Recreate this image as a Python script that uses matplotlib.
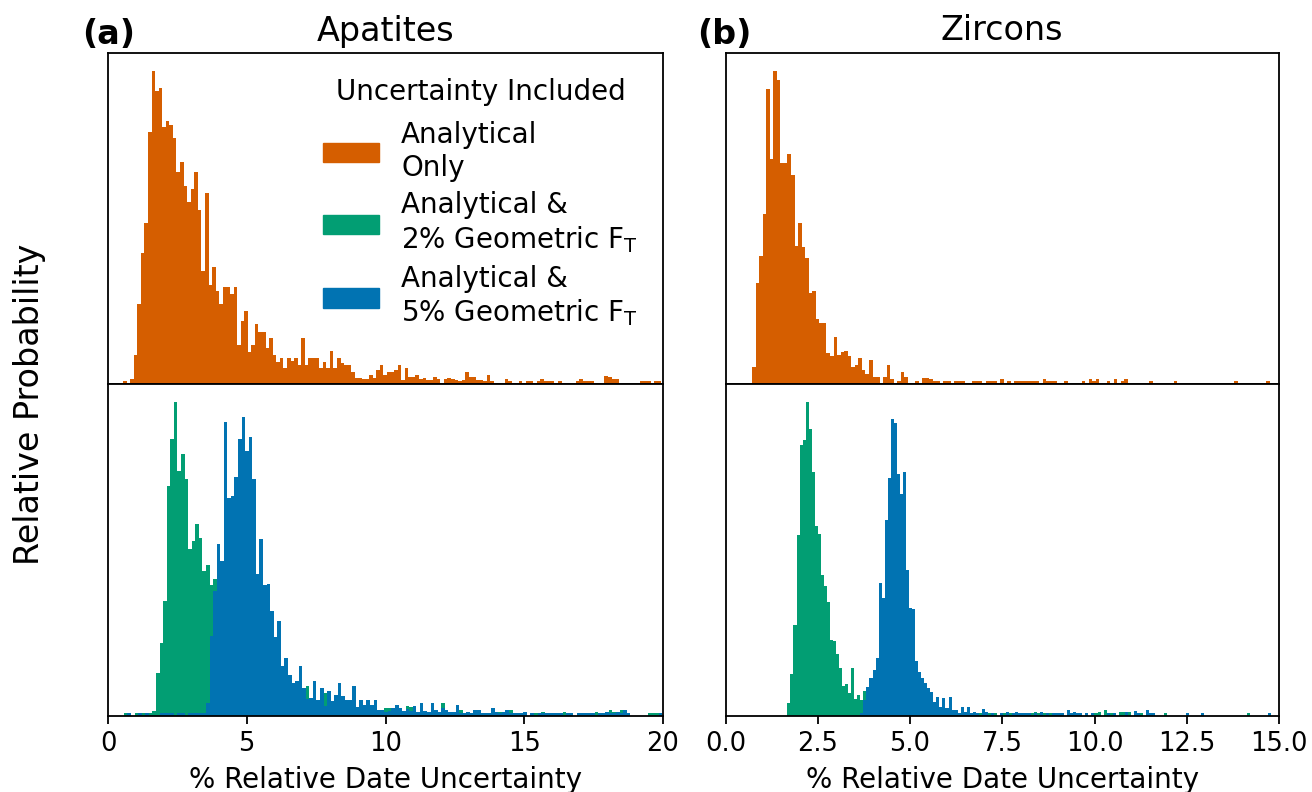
import matplotlib
matplotlib.use('Agg')
import matplotlib.pyplot as plt
from matplotlib.patches import Patch
import numpy as np

### histogram bin heights (relative probability, arbitrary units) ###

# apatites, analytical only: bins start at 0.54 %, width 0.1285 %
apatite_only_start = 0.54
apatite_only_width = 0.1285
apatite_only = [
    8, 0, 15, 87, 240, 392, 483, 757, 940, 880, 890, 770, 788, 777, 737, 635, 665, 595, 545, 585,
    635, 523, 340, 573, 298, 350, 280, 240, 290, 290, 270, 290, 117, 188, 218, 97, 117, 180, 157, 157,
    107, 137, 87, 67, 77, 47, 77, 70, 77, 57, 137, 57,
    79, 79, 79, 47, 67, 47, 99, 47, 79, 64,
    57, 57, 37, 17, 17, 14, 14, 27, 17, 42,
    57, 27, 37, 37, 42, 57, 12, 47, 22, 22,
    27, 14, 17, 12, 12, 20, 14, 0, 14, 17,
    14, 12, 9, 12, 37, 20, 20, 12, 12, 9,
    27, 9, 0, 0, 0, 14, 9, 0, 0, 9,
    0, 9, 9, 0, 9, 14, 9, 9, 9, 0,
    9, 0, 0, 0, 0, 9, 14, 9, 9, 9,
    0, 0, 0, 25, 20, 14, 14, 0, 0, 0,
    0, 0, 0, 9, 9, 9, 0, 9, 9,
]

# apatites with geometric FT uncertainty: bins start at 0.574 %, width 0.1285 %
apatite_ft_start = 0.574
apatite_ft_width = 0.1285
apatite_ft2 = [
    8, 8, 0, 8, 8, 10, 8, 10, 15, 128, 218, 345, 688, 828, 940, 733, 785, 708, 501, 523,
    575, 533, 433, 451, 391, 411,
    370, 330, 290, 260, 230, 200, 180, 160, 140, 125, 110, 100, 90, 85, 78, 70, 62, 58, 52, 48,
    44, 40, 36, 34,
    30, 91, 40, 28, 30, 25, 68, 20, 22, 20,
    30, 25, 20, 22, 20, 18, 15, 20, 15, 18,
    12, 10, 12, 25, 25, 15, 10, 12, 10, 31,
    26, 10, 8, 12, 8, 10, 8, 8, 11, 40,
    10, 8, 8, 10, 18, 8, 8, 10, 8, 8,
    8, 9, 8, 8, 8, 13, 8, 8, 18, 8,
    10, 8, 8, 0, 0, 8, 9, 12, 9, 0,
    0, 0, 8, 13, 0, 0, 0, 0, 9, 9,
    8, 8, 13, 0, 0, 8, 18, 13, 8, 18,
    8, 0, 0, 0, 0, 0, 0, 8, 8, 8, 0,
]
apatite_ft5 = [
    0, 8, 0, 0, 8, 0, 8, 0, 0, 0, 8, 10, 8, 8, 0, 8, 8, 0, 8, 8, 8, 10, 8,
    40, 240, 373, 515, 465, 881, 651, 658, 715, 828, 896, 793, 836, 708, 425, 530, 391, 396, 315,
    235, 283, 151, 173, 123, 100, 105, 151,
    83, 50, 53, 106, 48, 83, 30, 76, 45, 63,
    98, 61, 48, 48, 91, 26, 48, 33, 48, 33,
    48, 18, 18, 12, 15, 23, 33, 23, 15, 20,
    15, 31, 11, 40, 16, 11, 40, 18, 11, 25,
    18, 11, 11, 33, 8, 8, 11, 8, 18, 18,
    8, 8, 8, 25, 11, 8, 11, 18, 8, 8,
    8, 8, 11, 0, 8, 0, 8, 8, 8, 8,
    8, 8, 8, 0, 8, 8, 0, 8, 8, 8,
    8, 8, 0, 8, 8, 11, 8, 8, 11, 8,
    18, 8, 0, 0, 0, 0, 0, 0, 0, 0, 8,
]

# zircons, analytical only: bins start at 0.717 %, width 0.0961 %
zircon_only_start = 0.717
zircon_only_width = 0.0961
zircon_only = [
    50, 302, 383, 509, 885, 675, 940, 913, 663, 663,
    689, 627, 413, 482, 412, 378, 273, 279, 195, 183,
    183, 92, 85, 140, 87, 95, 99, 85, 50, 57,
    77, 43, 30, 72, 20, 22, 0, 20, 57, 15,
    0, 10, 37, 22, 0, 0, 10, 0, 17,
    17, 15, 10, 8, 0, 9, 9, 0, 9, 9,
    9, 0, 0, 9, 9, 9, 0, 9, 9, 9,
    0, 14, 0, 9, 0, 9, 9, 9, 9, 9,
    9, 9, 0, 14, 9, 9, 9, 0, 0, 9,
    0, 0, 0, 0, 9, 0, 14, 9, 14, 0,
    0, 9, 0, 14, 0, 9, 14, 0, 0, 0,
    0, 0, 0, 9, 0, 0, 0, 0, 0, 0,
    9, 0, 0, 0, 0, 0, 0, 0, 0, 0,
    0, 0, 0, 0, 0, 0, 0, 9, 0, 0,
    0, 0, 0, 0, 0, 0, 9,
]

# zircons with geometric FT uncertainty: bins start at 1.677 %, width 0.0824 %
zircon_ft_start = 1.677
zircon_ft_width = 0.0824
zircon_ft2 = [
    40, 125, 273, 541, 811, 826, 940, 860, 731, 570, 545, 423, 390, 341, 228, 223, 186, 143, 91, 95,
    68, 143, 51, 63, 48, 75,
    60, 50, 45, 38, 32, 28, 24, 22, 20, 18, 16, 15, 13, 12, 10, 10, 9, 8, 7, 7,
    6, 6, 5, 5, 5, 4, 4, 4, 3, 3, 3, 3, 2, 2, 8,
    0, 0, 8, 0, 0, 8, 0, 8, 0, 0, 8, 0, 8, 0, 0, 0, 0, 0, 0, 9,
    11, 9, 0, 9, 0, 8, 0, 0, 0, 0, 0, 0, 0, 0, 0, 0, 0, 0, 0, 0,
    8, 12, 0, 17, 0, 9, 0, 0, 11, 11, 0, 11, 0, 0, 0, 8, 0, 0, 0, 0,
    0, 0, 0, 8, 0, 0, 0, 0, 0, 0, 9, 0, 0, 0, 0, 0, 0, 0, 0, 0,
    0, 0, 0, 0, 0, 0, 0, 0, 0, 0, 8, 0, 0, 0, 0, 0, 0, 0,
]
zircon_ft5 = [
    0, 0, 0, 0, 0, 0, 0, 0, 0, 0, 0, 0, 0, 0, 0, 0, 0, 0, 0, 0, 0, 0, 0, 0,
    10, 48, 88, 115, 138, 173, 398, 353, 588, 713,
    888, 878, 725, 663, 730, 438, 323, 321, 165, 133,
    115, 98, 83, 73, 41, 58, 28, 55, 23, 58,
    18, 18, 10, 28, 13, 28, 8,
    11, 8, 0, 22, 12, 0, 8, 0, 0, 8, 0, 11, 0, 8, 11, 8, 8, 8, 8, 0,
    8, 0, 11, 0, 8, 0, 10, 8, 8, 8, 0, 17, 8, 12, 8, 8, 0, 8, 0, 8,
    0, 0, 0, 0, 8, 0, 8, 0, 0, 0, 11, 0, 0, 15, 8, 0, 0, 17, 8, 8,
    0, 0, 0, 0, 0, 0, 0, 0, 0, 0, 8, 0, 0, 0, 0, 8, 0, 0, 0, 0,
    0, 0, 0, 0, 0, 0, 0, 0, 0, 0, 0, 0, 0, 0, 0, 0, 0, 8,
]

apatite_ticks = [0, 5, 10, 15, 20]
zircon_ticks = [0, 2.5, 5.0, 7.5, 10.0, 12.5, 15.0]

legend_labels = ['Analytical\nOnly',
                 'Analytical &\n2% Geometric F$_\\mathrm{T}$',
                 'Analytical &\n5% Geometric F$_\\mathrm{T}$']

c_only = '#D55E00'
c_ft2 = '#029E73'
c_ft5 = '#0173B2'


def draw_hist(ax, start, width, heights, color):
    edges = start + width * np.arange(len(heights) + 1)
    ax.hist(edges[:-1], bins=edges, weights=heights, color=color)


### general plot configurations ###
plt.rcParams['font.family'] = 'DejaVu Sans'
plt.rcParams['font.size'] = 20
plt.rcParams['axes.linewidth'] = 1.3
plt.rcParams['xtick.major.width'] = 1.3
plt.rcParams['xtick.major.size'] = 6
plt.rcParams['xtick.labelsize'] = 18.5

W, H = 1312, 792
fig = plt.figure(figsize=(W / 100, H / 100), dpi=100)

ax_a_top = fig.add_axes([108 / W, (H - 384) / H, 555 / W, 331 / H])
ax_a_bot = fig.add_axes([108 / W, (H - 716) / H, 555 / W, 332 / H])
ax_b_top = fig.add_axes([725.5 / W, (H - 384) / H, 553.5 / W, 331 / H])
ax_b_bot = fig.add_axes([725.5 / W, (H - 716) / H, 553.5 / W, 332 / H])

draw_hist(ax_a_top, apatite_only_start, apatite_only_width, apatite_only, c_only)
draw_hist(ax_a_bot, apatite_ft_start, apatite_ft_width, apatite_ft2, c_ft2)
draw_hist(ax_a_bot, apatite_ft_start, apatite_ft_width, apatite_ft5, c_ft5)
draw_hist(ax_b_top, zircon_only_start, zircon_only_width, zircon_only, c_only)
draw_hist(ax_b_bot, zircon_ft_start, zircon_ft_width, zircon_ft2, c_ft2)
draw_hist(ax_b_bot, zircon_ft_start, zircon_ft_width, zircon_ft5, c_ft5)

ymax = {ax_a_top: max(apatite_only), ax_a_bot: max(apatite_ft2 + apatite_ft5),
        ax_b_top: max(zircon_only), ax_b_bot: max(zircon_ft2 + zircon_ft5)}
for ax, m in ymax.items():
    ax.set_ylim(0, m * 1.057)
    ax.set_yticks([])

for ax in (ax_a_top, ax_a_bot):
    ax.set_xlim(0, 20)
    ax.set_xticks(apatite_ticks)
for ax in (ax_b_top, ax_b_bot):
    ax.set_xlim(0, 15)
    ax.set_xticks(zircon_ticks)
for ax in (ax_a_top, ax_b_top):
    ax.tick_params(bottom=False, labelbottom=False)
for ax in (ax_a_bot, ax_b_bot):
    ax.tick_params(axis='x', pad=4.5)
    ax.set_xlabel('% Relative Date Uncertainty', fontsize=20, labelpad=7)

ax_a_top.set_title('Apatites', fontsize=24, pad=9)
ax_b_top.set_title('Zircons', fontsize=24, pad=9)
fig.text(82 / W, 1 - 44 / H, '(a)', fontsize=24, fontweight='bold', ha='left', va='baseline')
fig.text(697 / W, 1 - 44 / H, '(b)', fontsize=24, fontweight='bold', ha='left', va='baseline')
fig.text(30 / W, 1 - 404 / H, 'Relative Probability', fontsize=24, rotation=90, ha='center', va='center')

handles = [Patch(color=c, label=l) for c, l in zip([c_only, c_ft2, c_ft5], legend_labels)]
leg = ax_a_top.legend(handles=handles, loc='upper right', frameon=False, fontsize=20,
                      title='Uncertainty Included', title_fontsize=20, labelspacing=0.35)
# keep the wider gap under the title
leg._legend_box.sep = 0.55 * 20

plt.savefig('out.png', dpi=100)
